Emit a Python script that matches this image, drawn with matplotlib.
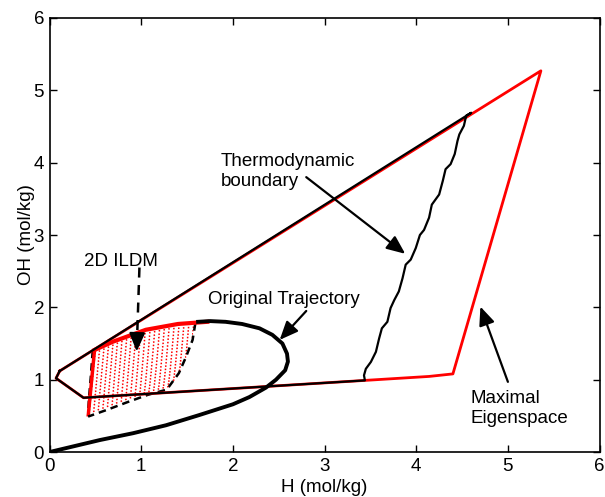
import matplotlib
matplotlib.use("Agg")
import matplotlib.pyplot as plt

plt.rcParams['font.family'] = ['Liberation Sans', 'DejaVu Sans']

# ---------------- data ----------------
# Maximal eigenspace polygon (red)
eig_x = [0.11, 5.36, 4.40, 4.14, 3.44, 0.37, 0.07, 0.11]
eig_y = [1.12, 5.27, 1.08, 1.045, 0.99, 0.75, 1.02, 1.12]

# Thermodynamic boundary polygon (black)
thermo_x = [0.11, 4.60, 4.545, 4.52, 4.47, 4.45, 4.42, 4.375, 4.32, 4.29, 4.25,
            4.21, 4.17, 4.14, 4.085, 4.04, 3.995, 3.94, 3.885, 3.85, 3.81, 3.76,
            3.72, 3.685, 3.625, 3.595, 3.56, 3.505, 3.45, 3.43, 3.44, 0.37, 0.07, 0.11]
thermo_y = [1.12, 4.69, 4.65, 4.51, 4.39, 4.30, 4.12, 3.98, 3.91, 3.75, 3.56,
            3.49, 3.42, 3.24, 3.07, 3.00, 2.82, 2.66, 2.59, 2.40, 2.22, 2.10,
            1.99, 1.80, 1.71, 1.57, 1.385, 1.245, 1.15, 1.06, 0.99, 0.75, 1.02, 1.12]

# Original trajectory
traj_x = [0.0, 0.55, 0.91, 1.27, 1.63, 2.0, 2.18, 2.36, 2.47, 2.57, 2.60, 2.59,
          2.54, 2.43, 2.29, 2.10, 1.92, 1.75, 1.62]
traj_y = [0.0, 0.166, 0.26, 0.37, 0.51, 0.66, 0.76, 0.89, 1.0, 1.13, 1.25, 1.36,
          1.50, 1.62, 1.71, 1.77, 1.80, 1.81, 1.80]

# 2D ILDM mesh rows (top row first)
ildm_x = [
    [0.490, 0.760, 1.030, 1.305, 1.580],
    [0.487, 0.754, 1.021, 1.298, 1.575],
    [0.483, 0.747, 1.012, 1.291, 1.570],
    [0.480, 0.741, 1.003, 1.284, 1.565],
    [0.476, 0.734, 0.994, 1.275, 1.555],
    [0.473, 0.728, 0.985, 1.268, 1.550],
    [0.469, 0.721, 0.976, 1.258, 1.540],
    [0.466, 0.715, 0.967, 1.249, 1.530],
    [0.462, 0.708, 0.958, 1.239, 1.520],
    [0.459, 0.702, 0.949, 1.227, 1.505],
    [0.455, 0.695, 0.940, 1.215, 1.490],
    [0.452, 0.689, 0.931, 1.206, 1.480],
    [0.448, 0.682, 0.922, 1.194, 1.465],
    [0.445, 0.676, 0.913, 1.182, 1.450],
    [0.441, 0.669, 0.904, 1.167, 1.430],
    [0.438, 0.663, 0.895, 1.153, 1.410],
    [0.434, 0.656, 0.886, 1.138, 1.390],
    [0.431, 0.650, 0.877, 1.121, 1.365],
    [0.427, 0.643, 0.868, 1.104, 1.340],
    [0.424, 0.637, 0.859, 1.080, 1.300],
    [0.420, 0.630, 0.850, 1.060, 1.270],
]
ildm_y = [
    [1.410, 1.560, 1.680, 1.750, 1.770],
    [1.364, 1.511, 1.631, 1.702, 1.725],
    [1.318, 1.463, 1.581, 1.654, 1.679],
    [1.272, 1.414, 1.532, 1.606, 1.634],
    [1.226, 1.365, 1.482, 1.558, 1.588],
    [1.180, 1.316, 1.433, 1.510, 1.543],
    [1.134, 1.268, 1.383, 1.462, 1.497],
    [1.088, 1.219, 1.334, 1.414, 1.452],
    [1.042, 1.170, 1.284, 1.366, 1.406],
    [0.996, 1.121, 1.235, 1.318, 1.361],
    [0.950, 1.073, 1.185, 1.270, 1.315],
    [0.904, 1.024, 1.136, 1.222, 1.270],
    [0.858, 0.975, 1.086, 1.174, 1.224],
    [0.812, 0.926, 1.037, 1.126, 1.179],
    [0.766, 0.878, 0.987, 1.078, 1.133],
    [0.720, 0.829, 0.938, 1.030, 1.088],
    [0.674, 0.780, 0.888, 0.982, 1.042],
    [0.628, 0.731, 0.839, 0.934, 0.997],
    [0.582, 0.683, 0.789, 0.886, 0.951],
    [0.536, 0.634, 0.740, 0.838, 0.906],
    [0.490, 0.585, 0.690, 0.790, 0.860],
]
# ILDM top edge (solid)
ildm_top_x = [0.49, 0.69, 1.05, 1.40, 1.72]
ildm_top_y = [1.41, 1.525, 1.69, 1.77, 1.80]
# ILDM dashed boundaries
ildm_left_x = [0.47, 0.45, 0.43, 0.42]
ildm_left_y = [1.40, 1.05, 0.75, 0.55]
ildm_rb_x = [1.59, 1.56, 1.49, 1.41, 1.30, 1.27, 1.07, 0.85, 0.63, 0.42]
ildm_rb_y = [1.78, 1.55, 1.32, 1.09, 0.90, 0.86, 0.79, 0.69, 0.585, 0.49]

xticks = [0, 1, 2, 3, 4, 5, 6]
yticks = [0, 1, 2, 3, 4, 5, 6]

# ---------------- figure ----------------
fig = plt.figure(figsize=(6.05, 4.97), dpi=100)
ax = fig.add_axes([0.082, 0.0905, 0.909, 0.8733])

# ILDM mesh
for rx, ry in zip(ildm_x[1:-1], ildm_y[1:-1]):
    ax.plot(rx, ry, color='red', lw=1.1, ls=(0, (1, 2.2)))
ax.plot(ildm_left_x, ildm_left_y, color='black', lw=1.8, ls=(0, (3, 2)))
ax.plot([r[0] for r in ildm_x], [r[0] for r in ildm_y], color='red', lw=2.5,
        solid_capstyle='butt')
ax.plot(ildm_rb_x, ildm_rb_y, color='black', lw=1.8, ls=(0, (3, 2)))
ax.plot(ildm_top_x, ildm_top_y, color='red', lw=3.0)

# polygons
ax.plot(eig_x, eig_y, color='red', lw=2.0)
ax.plot(thermo_x, thermo_y, color='black', lw=1.6)

# trajectory
ax.plot(traj_x, traj_y, color='black', lw=2.8)

ax.set_xlim(0, 6)
ax.set_ylim(0, 6)
ax.set_xticks(xticks)
ax.set_yticks(yticks)
ax.tick_params(direction='in', length=5, width=1, top=True, right=True,
               labelsize=13.5, pad=4)
for s in ax.spines.values():
    s.set_linewidth(1.2)
ax.set_xlabel('H (mol/kg)', fontsize=13.5, labelpad=3)
ax.set_ylabel('OH (mol/kg)', fontsize=13.5, labelpad=-1)

fs = 13.5
ahead = dict(arrowstyle='-|>,head_length=0.7,head_width=0.3', color='black',
             lw=1.6, mutation_scale=16, shrinkA=0, shrinkB=0)

# 2D ILDM
ax.text(0.37, 2.63, '2D ILDM', fontsize=fs, ha='left', va='center')
ax.plot([0.98, 0.955], [2.55, 1.6], color='black', lw=1.8, ls=(0, (4, 3)))
ax.annotate('', xy=(0.95, 1.39), xytext=(0.955, 1.62), arrowprops=ahead)

# Original Trajectory
ax.text(1.73, 2.11, 'Original Trajectory', fontsize=fs, ha='left', va='center')
ax.annotate('', xy=(2.51, 1.55), xytext=(2.80, 1.95), arrowprops=ahead)

# Thermodynamic boundary
ax.text(1.87, 3.88, 'Thermodynamic\nboundary', fontsize=fs, ha='left',
        va='center', linespacing=1.2)
ax.annotate('', xy=(3.88, 2.74), xytext=(2.80, 3.80), arrowprops=ahead)

# Maximal Eigenspace
ax.text(4.59, 0.60, 'Maximal\nEigenspace', fontsize=fs, ha='left',
        va='center', linespacing=1.25)
ax.annotate('', xy=(4.70, 2.01), xytext=(5.0, 0.97), arrowprops=ahead)

fig.savefig('out.png', dpi=100)
